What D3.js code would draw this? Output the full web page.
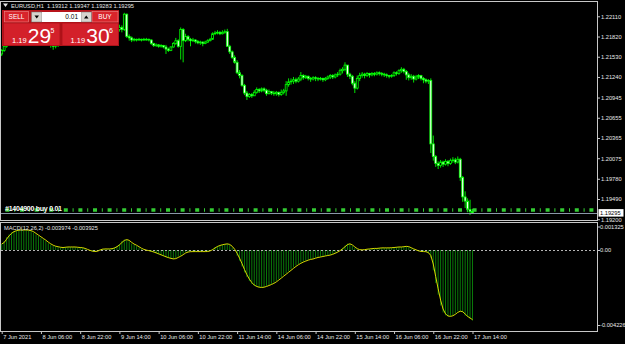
<!DOCTYPE html>
<html lang="en">
<head>
<meta charset="UTF-8">
<title>EURUSD,H1</title>
<script src="https://cdnjs.cloudflare.com/ajax/libs/d3/7.8.5/d3.min.js"></script>
<style type="text/css">
	body { margin: 0; background: #000; }
	svg { display: block; font-family: 'Liberation Sans', Arial, sans-serif; }
	.axis text { font-size: 5.7px; fill: #e8e8e8; }
	.axis line { stroke: #c8c8c8; stroke-width: 1px; }
	.axis path { display: none; }
	.frame { fill: none; stroke: #c8c8c8; stroke-width: 1px; shape-rendering: crispEdges; }
	.wick { stroke: #00ff00; stroke-width: 0.9px; }
	.body { stroke: #00ff00; stroke-width: 0.8px; }
	.hist { stroke: #0a780a; stroke-width: 1px; }
	.label { font-size: 5.7px; fill: #e8e8e8; }
</style>
</head>
<body>
<script type="text/javascript">

var firstOpen = 1.2157;
var closes = [
	1.2162,1.2168,1.2174,1.2180,1.2185,1.2190,1.2188,1.2192,1.2189,1.2186,
	1.2188,1.2185,1.2183,1.2180,1.2178,1.2179,1.2177,1.2175,1.2176,1.2174,
	1.2170,1.2168,1.2171,1.2172,1.2175,1.2177,1.2179,1.2178,1.2180,1.2178,
	1.2177,1.2179,1.2176,1.2175,1.2174,1.2173,1.2175,1.2174,1.2176,1.2179,
	1.2181,1.2180,1.2183,1.2185,1.2184,1.2187,1.2189,1.2192,1.2195,1.2192,
	1.2214,1.2182,1.2180,1.2177,1.2178,1.2177,1.2178,1.2177,1.2178,1.2178,
	1.2177,1.2172,1.2169,1.2170,1.2168,1.2169,1.2167,1.2164,1.2162,1.2167,
	1.2172,1.2176,1.2168,1.2192,1.2176,1.2182,1.2178,1.2176,1.2177,1.2175,
	1.2173,1.2174,1.2172,1.2174,1.2176,1.2178,1.2186,1.2187,1.2188,1.2186,
	1.2188,1.2189,1.2168,1.2160,1.2152,1.2145,1.2130,1.2126,1.2112,1.2101,
	1.2096,1.2099,1.2097,1.2102,1.2106,1.2104,1.2107,1.2105,1.2100,1.2103,
	1.2101,1.2100,1.2102,1.2099,1.2102,1.2104,1.2113,1.2117,1.2118,1.2120,
	1.2118,1.2121,1.2126,1.2123,1.2125,1.2122,1.2121,1.2123,1.2122,1.2121,
	1.2122,1.2120,1.2122,1.2124,1.2126,1.2124,1.2127,1.2128,1.2133,1.2135,
	1.2141,1.2128,1.2125,1.2115,1.2108,1.2122,1.2126,1.2128,1.2126,1.2129,
	1.2127,1.2129,1.2128,1.2130,1.2129,1.2128,1.2127,1.2126,1.2125,1.2126,
	1.2130,1.2129,1.2133,1.2135,1.2132,1.2127,1.2123,1.2125,1.2121,1.2124,
	1.2126,1.2122,1.2120,1.2118,1.2119,1.2028,1.2010,1.2000,1.1997,1.2002,
	1.1999,1.2003,1.2000,1.2004,1.2005,1.2002,1.2006,1.1980,1.1952,1.1946,
	1.1934,1.19312,1.19295
];
var highs = [
	1.2164,1.2171,1.2177,1.2183,1.2189,1.2194,1.2195,1.2197,1.2195,1.2192,
	1.2191,1.2190,1.2188,1.2185,1.2182,1.2182,1.2181,1.2179,1.2178,1.2177,
	1.2175,1.2172,1.2173,1.2175,1.2178,1.2180,1.2182,1.2182,1.2183,1.2182,
	1.2180,1.2181,1.2180,1.2178,1.2177,1.2176,1.2177,1.2177,1.2178,1.2181,
	1.2184,1.2184,1.2186,1.2188,1.2188,1.2190,1.2192,1.2196,1.2199,1.2198,
	1.2216,1.2215,1.2185,1.2182,1.2180,1.2179,1.2180,1.2179,1.2180,1.2180,
	1.2179,1.2178,1.2173,1.2172,1.2171,1.2171,1.2170,1.2170,1.2166,1.2168,
	1.2174,1.2180,1.2178,1.2195,1.2194,1.2186,1.2184,1.2180,1.2180,1.2178,
	1.2177,1.2176,1.2175,1.2176,1.2178,1.2180,1.2188,1.2190,1.2191,1.2190,
	1.2191,1.2192,1.2193,1.2170,1.2162,1.2155,1.2148,1.2134,1.2128,1.2114,
	1.2104,1.2101,1.2101,1.2105,1.2109,1.2108,1.2109,1.2109,1.2107,1.2106,
	1.2104,1.2104,1.2104,1.2103,1.2106,1.2107,1.2118,1.2122,1.2122,1.2124,
	1.2123,1.2124,1.2131,1.2128,1.2127,1.2126,1.2124,1.2125,1.2125,1.2124,
	1.2124,1.2123,1.2124,1.2126,1.2128,1.2128,1.2129,1.2131,1.2136,1.2138,
	1.2145,1.2140,1.2130,1.2127,1.2118,1.2126,1.2130,1.2131,1.2130,1.2131,
	1.2130,1.2131,1.2131,1.2132,1.2132,1.2131,1.2130,1.2129,1.2127,1.2128,
	1.2132,1.2132,1.2135,1.2138,1.2137,1.2134,1.2130,1.2128,1.2127,1.2127,
	1.2128,1.2127,1.2124,1.2122,1.2121,1.2122,1.2040,1.2012,1.2003,1.2005,
	1.2004,1.2006,1.2005,1.2007,1.2009,1.2008,1.2010,1.2008,1.1982,1.1960,
	1.1950,1.1948,1.19347
];
var lows = [
	1.2154,1.2160,1.2166,1.2172,1.2178,1.2183,1.2184,1.2186,1.2185,1.2183,
	1.2184,1.2182,1.2180,1.2177,1.2175,1.2176,1.2174,1.2172,1.2173,1.2171,
	1.2166,1.2163,1.2165,1.2167,1.2170,1.2173,1.2175,1.2175,1.2176,1.2175,
	1.2174,1.2175,1.2173,1.2172,1.2171,1.2170,1.2171,1.2171,1.2172,1.2174,
	1.2177,1.2177,1.2179,1.2181,1.2181,1.2183,1.2185,1.2187,1.2189,1.2188,
	1.2190,1.2180,1.2176,1.2174,1.2175,1.2175,1.2176,1.2175,1.2176,1.2176,
	1.2175,1.2170,1.2167,1.2167,1.2166,1.2166,1.2165,1.2157,1.2160,1.2161,
	1.2166,1.2170,1.2166,1.2149,1.2145,1.2174,1.2175,1.2168,1.2174,1.2172,
	1.2171,1.2170,1.2168,1.2171,1.2173,1.2175,1.2177,1.2184,1.2185,1.2184,
	1.2185,1.2186,1.2168,1.2157,1.2150,1.2143,1.2128,1.2122,1.2110,1.2098,
	1.2091,1.2094,1.2094,1.2097,1.2100,1.2101,1.2102,1.2102,1.2097,1.2099,
	1.2098,1.2097,1.2097,1.2096,1.2097,1.2099,1.2097,1.2110,1.2113,1.2114,
	1.2115,1.2116,1.2118,1.2120,1.2121,1.2119,1.2117,1.2119,1.2118,1.2118,
	1.2119,1.2117,1.2118,1.2120,1.2121,1.2121,1.2122,1.2124,1.2126,1.2129,
	1.2132,1.2124,1.2121,1.2112,1.2101,1.2106,1.2118,1.2123,1.2122,1.2124,
	1.2123,1.2125,1.2125,1.2126,1.2126,1.2125,1.2124,1.2123,1.2122,1.2123,
	1.2124,1.2126,1.2127,1.2130,1.2129,1.2120,1.2119,1.2120,1.2116,1.2119,
	1.2121,1.2119,1.2115,1.2115,1.2114,1.2015,1.2004,1.1995,1.1992,1.1994,
	1.1995,1.1997,1.1996,1.1998,1.2001,1.1999,1.2000,1.1975,1.1945,1.1936,
	1.1930,1.1926,1.19283
];
// MACD main line, in units of 0.00001
var macdMain = [
	34,50,72,88,99,108,110,113,113,113,
	113,110,108,99,88,80,69,61,50,39,
	31,23,20,17,14,14,17,17,17,17,
	17,14,14,12,6,1,-5,-8,-9,-5,
	3,6,6,6,6,9,14,23,34,50,
	58,59,50,36,31,23,14,6,1,-2,
	-5,-9,-13,-19,-24,-30,-35,-41,-45,-49,
	-51,-46,-38,-32,-21,-13,-10,-9,-9,-9,
	-9,-9,-9,-9,-8,-2,6,17,23,28,
	31,34,35,28,14,-5,-32,-60,-93,-126,
	-153,-175,-192,-203,-208,-211,-211,-208,-203,-197,
	-192,-184,-175,-164,-153,-142,-131,-120,-109,-98,
	-87,-79,-71,-65,-60,-54,-52,-49,-43,-41,
	-38,-35,-32,-30,-27,-21,-16,-8,1,12,
	25,36,34,23,12,3,1,1,3,6,
	6,9,9,9,12,12,12,12,12,14,
	14,17,17,17,20,21,17,9,4,-2,
	-7,-9,-9,-10,-19,-43,-115,-186,-252,-313,
	-352,-368,-375,-373,-368,-357,-346,-344,-351,-370,
	-378,-388,-397
];

var tickBars = [0,16,32,48,64,80,96,112,128,144,160,176,192];
var tickLabels = ['7 Jun 2021','8 Jun 06:00','8 Jun 22:00','9 Jun 14:00','10 Jun 06:00','10 Jun 22:00',
	'11 Jun 14:00','14 Jun 06:00','14 Jun 22:00','15 Jun 14:00','16 Jun 06:00','16 Jun 22:00','17 Jun 14:00'];
var priceTicks = [1.22110,1.21820,1.21530,1.21240,1.20945,1.20655,1.20365,1.20075,1.19780,1.19490,1.19200];
var bidPrice = 1.19295;
var orderPrice = 1.19332;
var macdTicks = [0.001325, 0, -0.004226];
var macdTickLabels = ['0.001325','0.00','-0.004226'];
var header = 'EURUSD,H1  1.19312 1.19347 1.19283 1.19295';
var macdTitle = 'MACD(12,26,2) -0.003974 -0.003925';
var orderLabel = '#1404900 buy 0.01';
var lots = '0.01';
var sellQuote = ['1.19','29','5'];
var buyQuote = ['1.19','30','6'];

var width = 625, height = 344;
var right = 597;

var bars = closes.map(function(c, i) {
	return { i: i, o: i ? closes[i-1] : firstOpen, h: highs[i], l: lows[i], c: c };
});
// signal = 2-period average of the main line
var macd = macdMain.map(function(v, i) {
	var prev = i ? macdMain[i-1] : v;
	return { i: i, m: v / 1e5, s: (v + prev) / 2e5 };
});

var svg = d3.select('body').append('svg')
	.attr('width', width)
	.attr('height', height);

svg.append('rect').attr('width', width).attr('height', height).attr('fill', '#000');

var x = d3.scaleLinear().domain([0, 192]).range([1.7, 472.5]);
var y = d3.scaleLinear().domain([1.19189, 1.22315]).range([220, 2]);
var ym = d3.scaleLinear().domain([-0.004226, 0.001325]).range([325, 226.5]);

// candles
var main = svg.append('g');
main.selectAll('.wick')
	.data(bars)
	.enter().append('line')
	.attr('class', 'wick')
	.attr('x1', d => x(d.i)).attr('x2', d => x(d.i))
	.attr('y1', d => y(d.h)).attr('y2', d => y(d.l));

var bw = 1.9;
main.selectAll('.body')
	.data(bars)
	.enter().append('rect')
	.attr('class', 'body')
	.attr('x', d => x(d.i) - bw / 2)
	.attr('y', d => y(Math.max(d.o, d.c)))
	.attr('width', bw)
	.attr('height', d => Math.max(0.6, Math.abs(y(d.o) - y(d.c))))
	.attr('fill', d => d.c >= d.o ? '#000' : '#fff');

// open order level
svg.append('line')
	.attr('x1', 1).attr('x2', right - 1)
	.attr('y1', y(orderPrice)).attr('y2', y(orderPrice))
	.attr('stroke', '#33cc33')
	.attr('stroke-width', 3.5)
	.attr('stroke-dasharray', '4,4.8,1,4.8')
	.attr('stroke-dashoffset', 10.2);

svg.append('text')
	.attr('x', 5).attr('y', 211)
	.attr('font-size', 7)
	.attr('font-weight', 'bold')
	.attr('fill', '#fff')
	.attr('textLength', 57)
	.text(orderLabel);

// bid line
svg.append('line')
	.attr('x1', 1).attr('x2', right)
	.attr('y1', Math.round(y(bidPrice)) + 0.5).attr('y2', Math.round(y(bidPrice)) + 0.5)
	.attr('stroke', '#8a98a8');

// MACD histogram + signal
var zero = ym(0);
svg.selectAll('.hist')
	.data(macd)
	.enter().append('line')
	.attr('class', 'hist')
	.attr('x1', d => x(d.i)).attr('x2', d => x(d.i))
	.attr('y1', zero).attr('y2', d => ym(d.m));

svg.append('line')
	.attr('x1', 1).attr('x2', right)
	.attr('y1', Math.round(zero) + 0.5).attr('y2', Math.round(zero) + 0.5)
	.attr('stroke', '#b4b4b4')
	.attr('stroke-dasharray', '2,2');

svg.append('path')
	.datum(macd)
	.attr('fill', 'none')
	.attr('stroke', '#d8d800')
	.attr('stroke-width', 1)
	.attr('d', d3.line().x(d => x(d.i)).y(d => ym(d.s)));

svg.append('text').attr('class', 'label')
	.attr('x', 4).attr('y', 229.5)
	.text(macdTitle);

// window frames
svg.append('rect').attr('class', 'frame').attr('x', 0.5).attr('y', 1.5).attr('width', right - 0.5).attr('height', 219);
svg.append('rect').attr('class', 'frame').attr('x', 0.5).attr('y', 222.5).attr('width', right - 0.5).attr('height', 108.5);

// price axis
svg.append('g')
	.attr('class', 'axis')
	.attr('transform', 'translate(' + right + ',0)')
	.call(d3.axisRight(y).tickValues(priceTicks).tickSize(3).tickPadding(1).tickFormat(d3.format('.5f')));

svg.append('rect')
	.attr('x', right + 1.5).attr('y', y(bidPrice) - 3.5)
	.attr('width', 25).attr('height', 7.5)
	.attr('fill', '#fff');
svg.append('text')
	.attr('x', right + 3).attr('y', y(bidPrice) + 2.1)
	.attr('font-size', 5.7).attr('fill', '#000')
	.text(d3.format('.5f')(bidPrice));

svg.append('g')
	.attr('class', 'axis')
	.attr('transform', 'translate(' + right + ',0)')
	.call(d3.axisRight(ym).tickValues(macdTicks).tickSize(3).tickPadding(0).tickFormat((d, i) => macdTickLabels[i]))
	.selectAll('text')
	.attr('font-size', 5.4);

// time axis
svg.append('g')
	.attr('class', 'axis')
	.attr('transform', 'translate(0,331)')
	.call(d3.axisBottom(x).tickValues(tickBars).tickSize(3).tickFormat((d, i) => tickLabels[i]))
	.selectAll('text')
	.attr('text-anchor', 'start')
	.attr('x', 1)
	.attr('y', 3.5);

// header
svg.append('path').attr('d', 'M3,3.5 L8,3.5 L5.5,7 Z').attr('fill', '#e8e8e8');
svg.append('text').attr('class', 'label')
	.attr('x', 11).attr('y', 8.3)
	.attr('xml:space', 'preserve')
	.text(header);

// one click trading panel
var panel = svg.append('g');
panel.append('rect').attr('x', 2).attr('y', 10).attr('width', 117).attr('height', 36).attr('fill', '#b8141b');
panel.append('rect').attr('x', 4.5).attr('y', 11.5).attr('width', 24).attr('height', 10.5)
	.attr('fill', '#d8242b').attr('stroke', '#f08a8a').attr('stroke-width', 0.6);
panel.append('rect').attr('x', 92).attr('y', 11.5).attr('width', 26).attr('height', 10.5)
	.attr('fill', '#d8242b').attr('stroke', '#f08a8a').attr('stroke-width', 0.6);
panel.append('rect').attr('x', 31.5).attr('y', 12).attr('width', 10.5).attr('height', 10)
	.attr('fill', '#d6d3ce').attr('stroke', '#707070').attr('stroke-width', 0.5);
panel.append('rect').attr('x', 81).attr('y', 12).attr('width', 10.5).attr('height', 10)
	.attr('fill', '#d6d3ce').attr('stroke', '#707070').attr('stroke-width', 0.5);
panel.append('rect').attr('x', 42).attr('y', 12).attr('width', 39).attr('height', 10).attr('fill', '#fff');
panel.append('path').attr('d', 'M34.5,15.5 L39,15.5 L36.75,18.5 Z').attr('fill', '#000');
panel.append('path').attr('d', 'M84,18.5 L88.5,18.5 L86.25,15.5 Z').attr('fill', '#000');
panel.append('text').attr('x', 78).attr('y', 19.3).attr('text-anchor', 'end')
	.attr('font-size', 6.5).attr('fill', '#000').text(lots);
panel.append('text').attr('x', 16.5).attr('y', 19.3).attr('text-anchor', 'middle')
	.attr('font-size', 6.5).attr('fill', '#fff').text('SELL');
panel.append('text').attr('x', 105).attr('y', 19.3).attr('text-anchor', 'middle')
	.attr('font-size', 6.5).attr('fill', '#fff').text('BUY');

[[3.5, sellQuote], [62, buyQuote]].forEach(function(b) {
	var bx = b[0], q = b[1];
	panel.append('rect').attr('x', bx).attr('y', 23).attr('width', 56.5).attr('height', 22.5)
		.attr('fill', '#d3202a').attr('stroke', '#9a1016').attr('stroke-width', 0.6);
	panel.append('text').attr('x', bx + 8.5).attr('y', 43).attr('font-size', 7.5).attr('fill', '#fff').text(q[0]);
	panel.append('text').attr('x', bx + 24.3).attr('y', 42.8).attr('font-size', 21).attr('fill', '#fff').text(q[1]);
	panel.append('text').attr('x', bx + 47).attr('y', 32.5).attr('font-size', 7).attr('fill', '#fff').text(q[2]);
});

</script>
</body>
</html>
